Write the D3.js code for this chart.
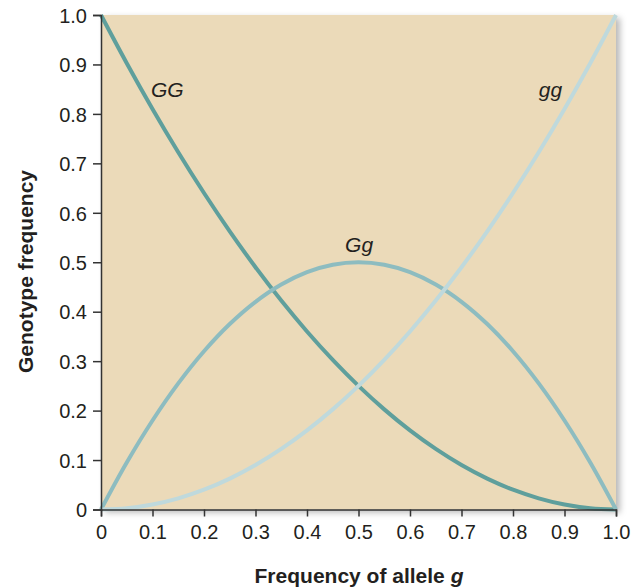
<!DOCTYPE html>
<html><head><meta charset="utf-8">
<script src="https://cdn.jsdelivr.net/npm/d3@7"></script>
<style>body{margin:0;background:#fff;} text{font-family:"Liberation Sans",Arial,Helvetica,sans-serif;fill:#231f20;}</style>
</head><body>
<svg id="c" width="639" height="588"></svg>
<script>
const alleleFreq = [0,0.05,0.1,0.15,0.2,0.25,0.3,0.35,0.4,0.45,0.5,0.55,0.6,0.65,0.7,0.75,0.8,0.85,0.9,0.95,1.0];
const GG = [1,0.9025,0.81,0.7225,0.64,0.5625,0.49,0.4225,0.36,0.3025,0.25,0.2025,0.16,0.1225,0.09,0.0625,0.04,0.0225,0.01,0.0025,0];
const Gg = [0,0.095,0.18,0.255,0.32,0.375,0.42,0.455,0.48,0.495,0.5,0.495,0.48,0.455,0.42,0.375,0.32,0.255,0.18,0.095,0];
const gg = [0,0.0025,0.01,0.0225,0.04,0.0625,0.09,0.1225,0.16,0.2025,0.25,0.3025,0.36,0.4225,0.49,0.5625,0.64,0.7225,0.81,0.9025,1];
const xTicks = [0,0.1,0.2,0.3,0.4,0.5,0.6,0.7,0.8,0.9,1.0];
const yTicks = [0,0.1,0.2,0.3,0.4,0.5,0.6,0.7,0.8,0.9,1.0];
const seriesNames = ["GG","Gg","gg"];
const seriesColors = ["#5f9f9c","#8dbcc0","#bfd9dc"];
const labelPos = [[0.097,0.835],[0.474,0.52],[0.85,0.835]];

const svg = d3.select("#c");
const L=101, R=616, T=15, B=509.5;
const x = d3.scaleLinear().domain([0,1]).range([L,R]);
const y = d3.scaleLinear().domain([0,1]).range([B,T]);

const defs = svg.append("defs");
const f = defs.append("filter").attr("id","sh").attr("x","-5%").attr("y","-5%").attr("width","115%").attr("height","115%");
f.append("feDropShadow").attr("dx",4).attr("dy",3).attr("stdDeviation",3).attr("flood-color","#000").attr("flood-opacity",0.28);

svg.append("rect").attr("x",L).attr("y",T).attr("width",R-L).attr("height",B-T)
  .attr("fill","#ebdab9").attr("filter","url(#sh)");

const data = [GG,Gg,gg];
const line = d3.line().x((d,i)=>x(alleleFreq[i])).y(d=>y(d)).curve(d3.curveCatmullRom.alpha(0.5));
data.forEach((s,k)=>{
  svg.append("path").attr("d",line(s)).attr("fill","none").attr("stroke",seriesColors[k]).attr("stroke-width",4);
});

const fmt = d=>d===0?"0":d3.format(".1f")(d);
const xa = svg.append("g").attr("transform",`translate(0,${B})`)
  .call(d3.axisBottom(x).tickValues(xTicks).tickFormat(fmt).tickSize(7).tickPadding(8.5));
const ya = svg.append("g").attr("transform",`translate(${L},0)`)
  .call(d3.axisLeft(y).tickValues(yTicks).tickFormat(fmt).tickSize(8).tickPadding(6));
[xa,ya].forEach(a=>{
  a.select(".domain").attr("stroke","#333").attr("stroke-width",1.5);
  a.selectAll(".tick line").attr("stroke","#333").attr("stroke-width",1.5);
  a.selectAll(".tick text").attr("font-size",20).attr("fill","#231f20").attr("font-family","Liberation Sans, Arial, sans-serif");
});
ya.selectAll(".tick text").attr("dy","0.36em");
xa.selectAll(".tick text").attr("dy","0.71em");

seriesNames.forEach((n,k)=>{
  svg.append("text").attr("x",x(labelPos[k][0])).attr("y",y(labelPos[k][1]))
    .attr("font-size",21).attr("font-style","italic").text(n);
});

const xt = svg.append("text").attr("x",359).attr("y",583).attr("text-anchor","middle")
  .attr("font-size",21).attr("font-weight","bold");
xt.append("tspan").text("Frequency of allele ");
xt.append("tspan").attr("font-style","italic").text("g");

svg.append("text").attr("transform","translate(33,271.5) rotate(-90)").attr("text-anchor","middle")
  .attr("font-size",21).attr("font-weight","bold").text("Genotype frequency");
</script>
</body></html>
